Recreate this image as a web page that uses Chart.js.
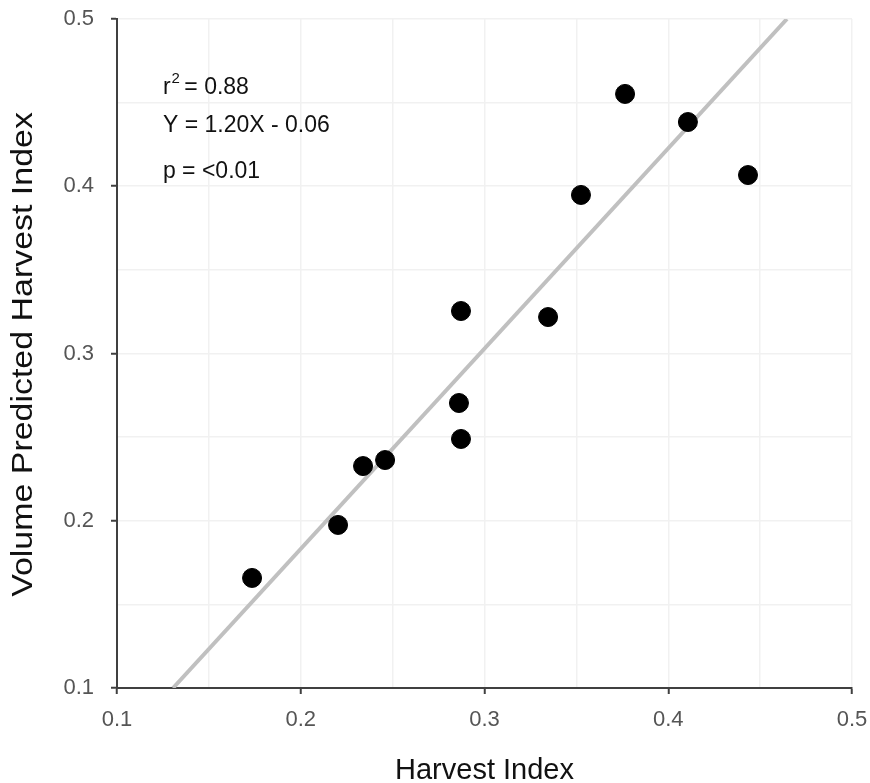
<!DOCTYPE html>
<html>
<head>
<meta charset="utf-8">
<script src="https://cdn.jsdelivr.net/npm/chart.js@4.4.1/dist/chart.umd.min.js"></script>
<style>
  html, body { margin: 0; padding: 0; background: #fff; }
  #wrap { width: 870px; height: 783px; position: relative; }
</style>
</head>
<body>
<div id="wrap"><canvas id="chart"></canvas></div>
<script>
// observed values
const harvestIndex = [0.1735, 0.2203, 0.2339, 0.2459, 0.2872, 0.2861, 0.2872, 0.3346, 0.3525, 0.3765, 0.4107, 0.4434];
const predictedHI  = [0.1658, 0.1975, 0.2327, 0.2363, 0.2489, 0.2704, 0.3254, 0.3218, 0.3948, 0.4552, 0.4384, 0.4067];

// fitted line end points (Y = 1.20X - 0.06)
const fitX = [0.1305, 0.4646];
const fitY = [0.1, 0.5];

const tickLabels = ["0.1", "0.2", "0.3", "0.4", "0.5"];

// each stat line: [main text, superscript, rest]
const statLines = [["r", "2", " = 0.88"], ["Y = 1.20X - 0.06", "", ""], ["p = <0.01", "", ""]];
const statPosX = 0.125;
const statPosY = [0.4590, 0.4363, 0.4088];

const FONT = "'Liberation Sans', Arial, sans-serif";
const labelOf = v => v.toFixed(2).replace(/0$/, "");
const isMajor = v => tickLabels.includes(labelOf(v));

const textLayer = {
  id: "textLayer",
  afterDatasetsDraw(chart) {
    const { ctx, chartArea, scales: { x, y } } = chart;
    ctx.save();
    ctx.fillStyle = "#111";
    ctx.textBaseline = "middle";
    ctx.textAlign = "left";
    statLines.forEach(([main, sup, rest], i) => {
      let px = x.getPixelForValue(statPosX);
      const py = y.getPixelForValue(statPosY[i]);
      ctx.font = "23px " + FONT;
      ctx.fillText(main, px, py);
      px += ctx.measureText(main).width;
      if (sup) {
        ctx.font = "15px " + FONT;
        ctx.fillText(sup, px + 1, py - 9);
        px += ctx.measureText(sup).width + 1;
      }
      if (rest) {
        ctx.font = "23px " + FONT;
        ctx.fillText(rest, px - 2, py);
      }
    });
    ctx.restore();

    // y axis title (a bit wider than the stock font, like the original)
    ctx.save();
    ctx.fillStyle = "#111";
    ctx.font = "29px " + FONT;
    ctx.textAlign = "center";
    ctx.textBaseline = "alphabetic";
    ctx.translate(32, (chartArea.top + chartArea.bottom) / 2 + 1);
    ctx.rotate(-Math.PI / 2);
    ctx.scale(1.17, 1);
    ctx.fillText("Volume Predicted Harvest Index", 0, 0);
    ctx.restore();
  }
};

const axisCommon = {
  min: 0.1,
  max: 0.5,
  border: { display: true, color: "#404040", width: 2 },
  grid: {
    color: "#f1f1f1",
    lineWidth: 1.5,
    tickLength: 6,
    tickColor: c => (c.tick && isMajor(c.tick.value)) ? "#404040" : "rgba(0,0,0,0)",
    tickWidth: 2
  },
  ticks: {
    stepSize: 0.05,
    color: "#555",
    font: { family: FONT, size: 22 },
    autoSkip: false,
    callback: v => isMajor(v) ? labelOf(v) : ""
  }
};

new Chart(document.getElementById("chart"), {
  type: "scatter",
  data: {
    datasets: [
      {
        label: "Observed",
        data: harvestIndex.map((v, i) => ({ x: v, y: predictedHI[i] })),
        backgroundColor: "#000",
        borderColor: "#000",
        pointRadius: 9.5,
        pointHoverRadius: 9.5
      },
      {
        label: "Fit",
        data: fitX.map((v, i) => ({ x: v, y: fitY[i] })),
        showLine: true,
        borderColor: "#c0c0c0",
        borderWidth: 4,
        pointRadius: 0,
        fill: false
      }
    ]
  },
  options: {
    responsive: true,
    maintainAspectRatio: false,
    animation: false,
    layout: { padding: { top: 19, right: 18, left: 0, bottom: 0 } },
    plugins: { legend: { display: false }, tooltip: { enabled: false } },
    scales: {
      x: {
        ...axisCommon,
        ticks: { ...axisCommon.ticks, padding: 13, maxRotation: 0 },
        title: {
          display: true,
          text: "Harvest Index",
          color: "#111",
          font: { family: FONT, size: 29, lineHeight: 0.85 },
          padding: { top: 0, bottom: 0 }
        },
        afterFit: s => { s.height = 95; s.paddingLeft = 0; s.paddingRight = 0; }
      },
      y: {
        ...axisCommon,
        ticks: { ...axisCommon.ticks, padding: 17 },
        title: { display: false },
        afterFit: s => { s.width = 117; s.paddingTop = 0; s.paddingBottom = 0; }
      }
    }
  },
  plugins: [textLayer]
});
</script>
</body>
</html>
